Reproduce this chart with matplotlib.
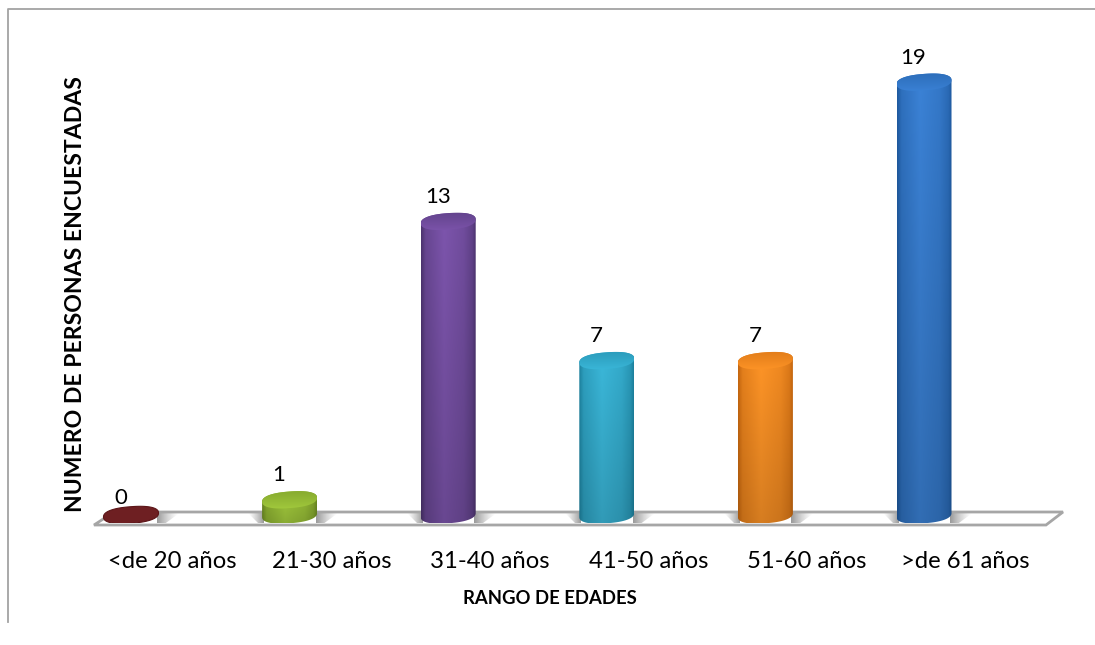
import numpy as np
import matplotlib
matplotlib.use('Agg')
import matplotlib.pyplot as plt
from matplotlib.path import Path
from matplotlib.patches import PathPatch, Polygon
from matplotlib.lines import Line2D
from matplotlib.transforms import Affine2D

categories = ['<de 20 años', '21-30 años', '31-40 años', '41-50 años', '51-60 años', '>de 61 años']
values = [0, 1, 13, 7, 7, 19]
edge_colors = ['#5c1518', '#6d8c22', '#4d3470', '#1d83a0', '#c8680f', '#1f5aa0']
light_colors = ['#6e1f22', '#a3cb3d', '#7d55ad', '#3bb8da', '#ff9527', '#3b82d6']
xlabel = 'RANGO DE EDADES'
ylabel = 'NUMERO DE PERSONAS ENCUESTADAS'

W, H = 1095, 645
plt.rcParams['font.family'] = ['Lato', 'DejaVu Sans']

fig = plt.figure(figsize=(W / 100, H / 100), dpi=100, facecolor='white')

# plot area in pixels, zero line sits at y=523, 23.2 px per person, 158.6 px per category
left, right, top, zero = 94, 1063, 40, 523
ax = fig.add_axes([left / W, 1 - zero / H, (right - left) / W, (zero - top) / H])
for s in ax.spines.values():
    s.set_visible(False)
ax.patch.set_alpha(0)

px = Affine2D().scale(1, -1).translate(0, H)  # pixel coords from the top left

# outer frame, only left and top show
fig.add_artist(Line2D([8, 8, W], [622, 9, 9], color='#a3a3a3', lw=1.3, transform=px))

# floor
floor_pts = [(94, 525), (1046, 525), (1063, 512), (114, 512)]
ax.add_patch(Polygon(floor_pts, closed=True, fc='white', ec='none', transform=px, zorder=1))
ax.add_patch(Polygon(floor_pts, closed=True, fc='none', ec='#a6a6a6', lw=2, transform=px, zorder=3,
                     clip_on=False))

half_w = 27.5 / 158.6
half_h = 8.3 / 23.2
tilt = 2 / 23.2
base = 0.345   # centre of the cylinder foot

def ellipse_pts(cx, cy, t):
    # slightly squarish ellipse, right side higher than the left
    c, s = np.cos(t), np.sin(t)
    c2 = np.sign(c) * np.abs(c) ** 0.85
    s2 = np.sign(s) * np.abs(s) ** 0.85
    return np.column_stack([cx + half_w * c2, cy + half_h * s2 + tilt * c2])

def shade(edge, light, nx=80, ny=60, fade=0.84):
    e = np.array(matplotlib.colors.to_rgb(edge))
    l = np.array(matplotlib.colors.to_rgb(light))
    u = np.linspace(0, 1, nx)
    k = np.interp(u, [0, 0.08, 0.42, 0.78, 0.94, 1], [0, 0.55, 1, 0.75, 0.4, 0])
    row = e[None, :] + (l - e)[None, :] * k[:, None]
    v = np.linspace(fade, 1, ny)[:, None, None]
    return row[None, :, :] * v

def add_shadow(x0, x1, shape_pts, rising):
    g = np.linspace(0, 1, 60) if rising else np.linspace(1, 0, 60)
    img = np.zeros((1, 60, 4))
    img[..., :3] = 0.5
    img[..., 3] = g ** 1.3 * 0.8
    im = ax.imshow(img, extent=[x0, x1, 0, 1], aspect='auto', zorder=2, interpolation='bilinear')
    clip = Polygon(shape_pts, closed=True, fc='none', ec='none', transform=px)
    ax.add_patch(clip)
    im.set_clip_path(clip)

for i, (val, ec, lc) in enumerate(zip(values, edge_colors, light_colors)):
    # soft shadow on the floor either side of the foot
    cx = 131 + i * 158.6
    lo, hi = cx - 27.5, cx + 27.5
    if val > 0:
        add_shadow(i - half_w - 14 / 158.6, i - half_w + 0.01,
                   [(lo - 14, 513), (lo + 2, 513), (lo + 2, 524), (lo - 3, 524)], True)
    add_shadow(i + half_w - 0.01, i + half_w + 20 / 158.6,
               [(hi - 2, 513), (hi + 21, 513), (hi + 6, 524), (hi - 2, 524)], False)

    top_y = max(val, base)
    if val > 0:
        t_low = np.linspace(np.pi, 2 * np.pi, 40)
        t_top = np.linspace(0, np.pi, 40)
        pts = np.vstack([ellipse_pts(i, base, t_low), ellipse_pts(i, top_y, t_top)])
        body = PathPatch(Path(np.vstack([pts, pts[:1]])), fc='none', ec='none')
        ax.add_patch(body)
        im = ax.imshow(shade(ec, lc), origin='lower', aspect='auto', zorder=4,
                       extent=[i - half_w, i + half_w, base - half_h - tilt, top_y + half_h])
        im.set_clip_path(body)

        # cap, darker at the back and lighter towards the front
        cap = PathPatch(Path(ellipse_pts(i, top_y, np.linspace(0, 2 * np.pi, 80))), fc='none', ec='none')
        ax.add_patch(cap)
        e = np.array(matplotlib.colors.to_rgb(ec))
        l = np.array(matplotlib.colors.to_rgb(lc))
        v = np.linspace(0, 1, 30)[:, None, None] ** 0.9  # 0 at the front edge
        grad = l[None, None, :] * (1 - v) + (0.55 * e + 0.45 * l)[None, None, :] * v
        grad = np.repeat(grad, 2, axis=1)
        im2 = ax.imshow(grad, origin='lower', aspect='auto', zorder=5,
                        extent=[i - half_w, i + half_w, top_y - half_h - tilt, top_y + half_h + tilt])
        im2.set_clip_path(cap)
    else:
        # no height, only a flat disc
        ax.add_patch(Polygon(ellipse_pts(i, base, np.linspace(0, 2 * np.pi, 80)), closed=True,
                             fc=lc, ec=ec, lw=0.8, zorder=4))

    ax.annotate(str(val), (i, val), xytext=(-10.5, 24.5), textcoords='offset pixels', ha='center',
                va='center', fontsize=16, color='black', zorder=6)

ax.set_xlim((left - 131) / 158.6, (right - 131) / 158.6)
ax.set_ylim(0, (zero - top) / 23.2)

ax.set_yticks([])
# the labels sit right of the cylinders, as the 3D floor shifts them
ax.set_xticks(np.arange(len(categories)) + 0.263)
ax.set_xticklabels(categories, fontsize=17.2, color='black')
ax.tick_params(axis='x', length=0, pad=20)
ax.set_xlabel(xlabel, fontsize=13.3, fontweight='bold', color='black')
ax.xaxis.set_label_coords(550 / W, 1 - 599 / H, transform=fig.transFigure)
ax.xaxis.label.set_va('center')
ax.set_ylabel(ylabel, fontsize=16.6, fontweight='bold', color='black')
ax.yaxis.set_label_coords(76 / W, 1 - 294 / H, transform=fig.transFigure)
ax.yaxis.label.set_va('center')

fig.savefig('out.png', dpi=100, facecolor='white')
